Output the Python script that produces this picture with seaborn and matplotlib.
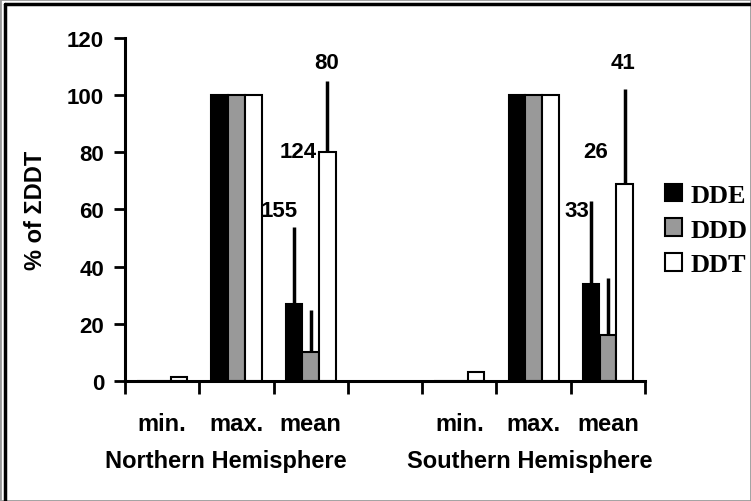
import numpy as np
import pandas as pd
import matplotlib
matplotlib.use('Agg')
import matplotlib.pyplot as plt
from matplotlib.lines import Line2D
from matplotlib.patches import Rectangle
import seaborn as sns

# Data (% of sum DDT)
slots = ['N_min', 'N_max', 'N_mean', 'gap', 'S_min', 'S_max', 'S_mean']
slot_labels = ['min.', 'max.', 'mean', '', 'min.', 'max.', 'mean']
compounds = ['DDE', 'DDD', 'DDT']

dde = [0, 100, 27, np.nan, 0, 100, 34]
ddd = [0, 100, 10, np.nan, 0, 100, 16]
ddt = [1.5, 100, 80, np.nan, 3, 100, 69]

# upper error bars (only on the means)
dde_err = [0, 0, 27, 0, 0, 0, 29]
ddd_err = [0, 0, 15, 0, 0, 0, 20]
ddt_err = [0, 0, 25, 0, 0, 0, 33]

# sample sizes shown above the mean bars
n_north = [155, 124, 80]
n_south = [33, 26, 41]

groups = ['Northern Hemisphere', 'Southern Hemisphere']

values = {'DDE': dde, 'DDD': ddd, 'DDT': ddt}
errors = {'DDE': dde_err, 'DDD': ddd_err, 'DDT': ddt_err}

rows = []
for comp in compounds:
    for slot, v in zip(slots, values[comp]):
        if not np.isnan(v):
            rows.append({'slot': slot, 'compound': comp, 'value': v})
df = pd.DataFrame(rows)

sns.set_style('ticks')
plt.rcParams['font.family'] = ['Liberation Sans', 'DejaVu Sans']
plt.rcParams['font.weight'] = 'bold'
plt.rcParams['text.color'] = 'black'
plt.rcParams['axes.labelcolor'] = 'black'
plt.rcParams['xtick.color'] = 'black'
plt.rcParams['ytick.color'] = 'black'

fig = plt.figure(figsize=(7.51, 5.02), dpi=100)
ax = fig.add_axes([125 / 751, (502 - 382) / 502, 520 / 751, 343.2 / 502])

palette = {'DDE': 'black', 'DDD': '#999999', 'DDT': 'white'}
bar_width = 0.675
sns.barplot(data=df, x='slot', y='value', hue='compound', order=slots,
            hue_order=compounds, palette=palette, width=bar_width,
            edgecolor='black', linewidth=1.5, errorbar=None, ax=ax,
            legend=True)

# error bars (upper half only)
bw = bar_width / len(compounds)
for h, comp in enumerate(compounds):
    for i, (v, e) in enumerate(zip(values[comp], errors[comp])):
        if e > 0:
            x = i + (h - 1) * bw
            ax.vlines(x, v, v + e, color='black', lw=2.5, zorder=3)

# sample size labels
label_layout = [(-0.42, 59.5), (-0.17, 80.3), (0.21, 111.4)]
for slot_idx, ns in [(2, n_north), (6, n_south)]:
    for (dx, y), n in zip(label_layout, ns):
        ax.text(slot_idx + dx, y, str(n), ha='center', va='center',
                fontsize=16, fontweight='bold')

ax.set_xlim(-0.5, 6.5)
ax.set_ylim(0, 120)
ax.set_yticks(np.arange(0, 121, 20))
ax.tick_params(axis='y', direction='out', length=8, width=2, pad=7,
               labelsize=16)
for lab in ax.get_yticklabels():
    lab.set_fontweight('bold')

ax.set_xticks(np.arange(-0.5, 7, 1))
ax.set_xticklabels([])
ax.tick_params(axis='x', which='major', direction='out', length=9, width=2)
ax.set_xticks(np.arange(7), minor=True)
ax.set_xticklabels(slot_labels, minor=True, fontsize=17, fontweight='bold')
ax.tick_params(axis='x', which='minor', length=0, pad=22)
ax.set_xlabel('')

ax.set_ylabel('% of ΣDDT', fontsize=17, fontweight='bold')
ax.yaxis.set_label_coords(-0.15, 0.50)

for side in ['top', 'right']:
    ax.spines[side].set_visible(False)
for side in ['left', 'bottom']:
    ax.spines[side].set_linewidth(2.2)
    ax.spines[side].set_color('black')

# hemisphere labels
ax.text(0.86, -0.233, groups[0], transform=ax.get_xaxis_transform(),
        ha='center', va='center', fontsize=17, fontweight='bold')
ax.text(4.95, -0.233, groups[1], transform=ax.get_xaxis_transform(),
        ha='center', va='center', fontsize=17, fontweight='bold')

# legend
handles, labels = ax.get_legend_handles_labels()
ax.legend_.remove()
fig.legend(handles, labels, loc='center left',
           bbox_to_anchor=(665 / 751, (502 - 231) / 502), frameon=False,
           prop={'family': 'Liberation Serif', 'weight': 'bold', 'size': 19},
           handlelength=0.65, handleheight=0.65, handletextpad=0.3,
           labelspacing=0.45, borderpad=0, borderaxespad=0)

# figure frame
fig.add_artist(Rectangle((0, 0), 1, 1, transform=fig.transFigure,
                         fill=False, edgecolor='#999999', lw=2))
fig.add_artist(Line2D([5 / 751, 1], [1 - 5 / 502, 1 - 5 / 502],
                      transform=fig.transFigure, color='black', lw=2.5))
fig.add_artist(Line2D([5 / 751, 5 / 751], [0, 1 - 5 / 502],
                      transform=fig.transFigure, color='black', lw=2.5))

fig.savefig('out.png', dpi=100)
